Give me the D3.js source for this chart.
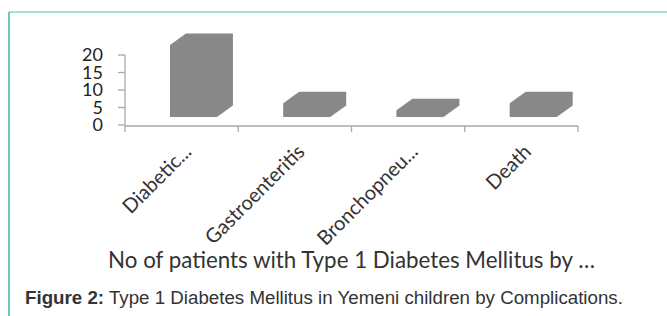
<!DOCTYPE html>
<html>
<head>
  <meta charset="utf-8" />
  <title>Type 1 Diabetes Mellitus by Complications</title>
  <style>
    body { margin: 0; background: #fff; }
    svg { display: block; }
  </style>
</head>
<body>
  <svg id="chart" width="667" height="316"></svg>

  <script src="https://cdn.jsdelivr.net/npm/d3@7"></script>
  <script>

    // data
    var categories = ['Diabetic...', 'Gastroenteritis', 'Bronchopneu...', 'Death']
    var patients = [21, 4, 2, 4]
    var yTicks = [0, 5, 10, 15, 20]
    var chartTitle = 'No of patients with Type 1 Diabetes Mellitus by \u2026'
    var captionBold = 'Figure 2:'
    var captionText = ' Type 1 Diabetes Mellitus in Yemeni children by Complications.'

    var svg = d3.select('#chart')

    // teal frame (top + left edges only)
    svg.append('line')
      .attr('x1', 9).attr('x2', 667).attr('y1', 12).attr('y2', 12)
      .attr('stroke', '#86d6ca').attr('stroke-width', 1.5)
    svg.append('line')
      .attr('x1', 9).attr('x2', 9).attr('y1', 12).attr('y2', 316)
      .attr('stroke', '#3fb3a2').attr('stroke-width', 1.5)

    var left = 125, right = 578, y0 = 125, y20 = 55

    var x = d3.scaleBand().domain(categories).range([left, right]).padding(0)
    var y = d3.scaleLinear().domain([0, 20]).range([y0, y20])
    var bw = x.bandwidth()

    // pseudo 3d offsets
    var depthX = 16, depthY = -11.5, floorLift = 8

    var g = svg.append('g')

    // bars as extruded columns
    g.selectAll('path.bar')
      .data(patients)
      .enter()
      .append('path')
      .attr('class', 'bar')
      .attr('fill', '#888888')
      .attr('d', function (d, i) {
        var x0 = x(categories[i]) + bw * 0.397
        var x1 = x0 + bw * 0.415
        var base = y(0) - floorLift
        var top = base - (y(0) - y(d)) * 0.98
        return 'M' + x0 + ',' + base +
          'L' + x0 + ',' + top +
          'L' + (x0 + depthX) + ',' + (top + depthY) +
          'L' + (x1 + depthX) + ',' + (top + depthY) +
          'L' + (x1 + depthX) + ',' + (base + depthY) +
          'L' + x1 + ',' + base + 'Z'
      })

    // y axis
    var axisColor = '#a9a9a9'
    g.append('line')
      .attr('x1', left).attr('x2', left).attr('y1', y(20)).attr('y2', y(0) + 1)
      .attr('stroke', axisColor).attr('stroke-width', 1.3)
    g.selectAll('line.ytick')
      .data(yTicks)
      .enter()
      .append('line')
      .attr('x1', left - 7).attr('x2', left)
      .attr('y1', function (d) { return y(d) }).attr('y2', function (d) { return y(d) })
      .attr('stroke', axisColor).attr('stroke-width', 1.3)
    g.selectAll('text.ylab')
      .data(yTicks)
      .enter()
      .append('text')
      .attr('x', 103)
      .attr('y', function (d) { return y(d) })
      .attr('dy', '0.36em')
      .attr('text-anchor', 'end')
      .attr('font-family', 'Lato, "Open Sans", sans-serif')
      .attr('font-size', 18)
      .attr('fill', '#222')
      .text(function (d) { return d })

    // x axis
    g.append('line')
      .attr('x1', left).attr('x2', right).attr('y1', y(0) + 1).attr('y2', y(0) + 1)
      .attr('stroke', axisColor).attr('stroke-width', 1.3)
    var edges = categories.map(function (c) { return x(c) }).concat([right])
    g.selectAll('line.xtick')
      .data(edges)
      .enter()
      .append('line')
      .attr('x1', function (d) { return d }).attr('x2', function (d) { return d })
      .attr('y1', y(0) + 1).attr('y2', y(0) + 7)
      .attr('stroke', axisColor).attr('stroke-width', 1.3)

    g.selectAll('text.xlab')
      .data(categories)
      .enter()
      .append('text')
      .attr('transform', function (d) {
        return 'translate(' + (x(d) + bw / 2 + 11) + ',153) rotate(-45)'
      })
      .attr('text-anchor', 'end')
      .attr('font-family', 'Lato, "Open Sans", sans-serif')
      .attr('font-size', 20)
      .attr('fill', '#333')
      .text(function (d) { return d })

    // chart title, fitted to the width seen in the figure
    var title = svg.append('text')
      .attr('x', (left + right) / 2)
      .attr('y', 268)
      .attr('text-anchor', 'middle')
      .attr('font-family', 'Lato, "Open Sans", sans-serif')
      .attr('font-size', 20)
      .attr('fill', '#333')
      .text(chartTitle)
    var tw = title.node().getComputedTextLength()
    title.attr('font-size', 20 * 487 / tw)

    // figure caption
    var cap = svg.append('text')
      .attr('x', 25)
      .attr('y', 304)
      .attr('font-family', '"Liberation Sans", Arial, sans-serif')
      .attr('font-size', 15)
      .attr('fill', '#333')
    cap.append('tspan').attr('font-weight', 'bold').text(captionBold)
    cap.append('tspan').text(captionText)
    var cw = cap.node().getComputedTextLength()
    cap.attr('font-size', 15 * 598 / cw)

  </script>
</body>
</html>
